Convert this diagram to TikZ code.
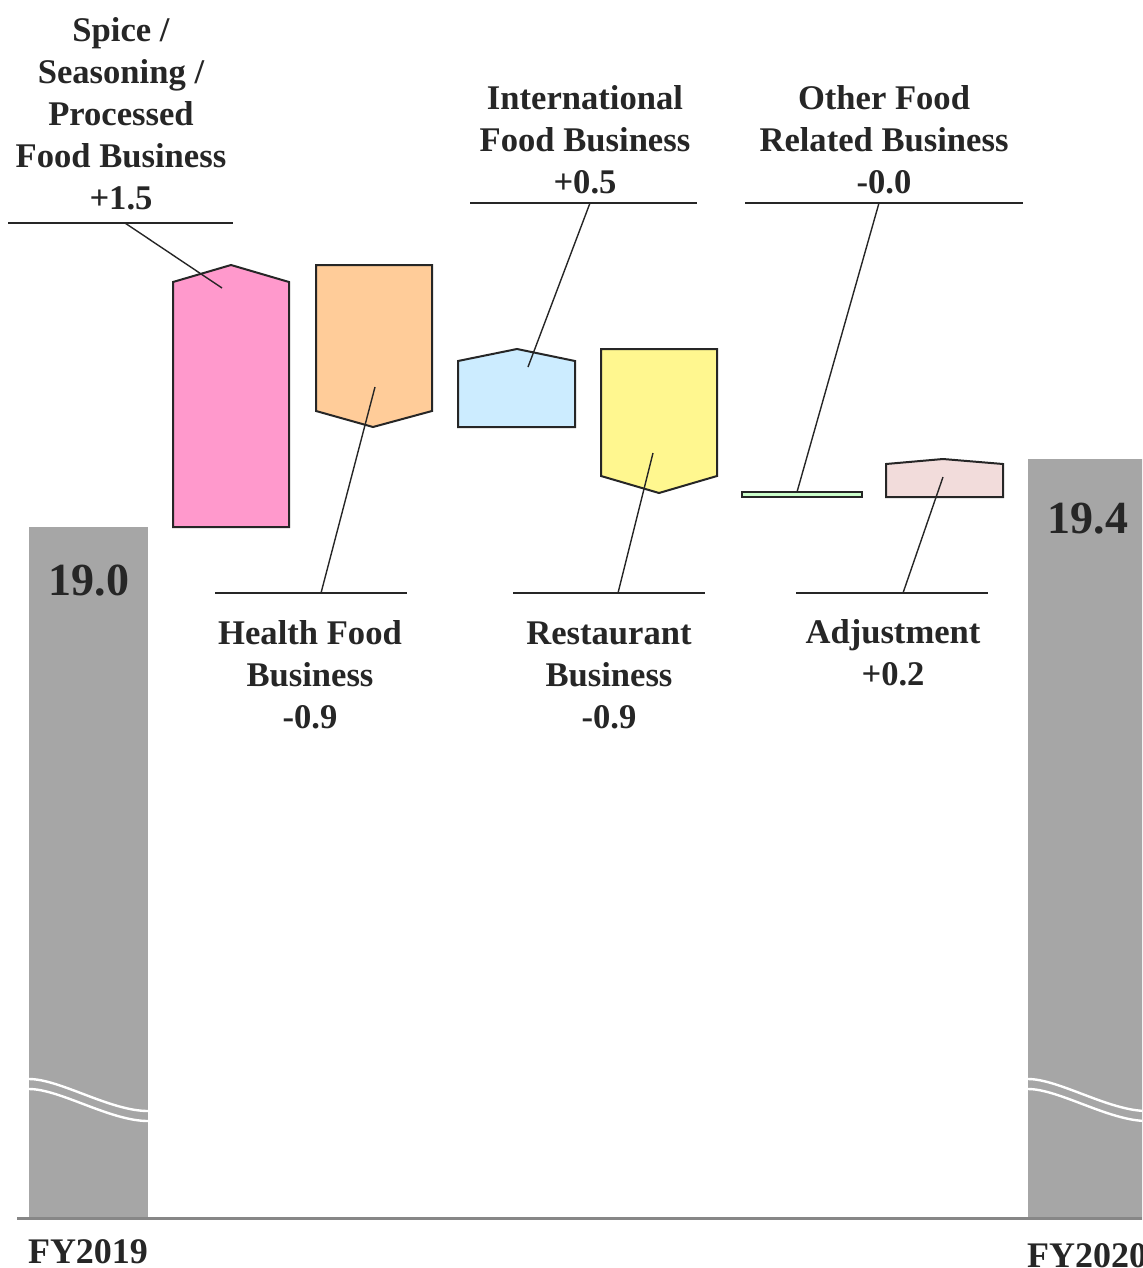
\documentclass[tikz,border=0pt]{standalone}
\usepackage{fontspec}
\setmainfont{Liberation Serif}
\definecolor{ink}{HTML}{262626}
\definecolor{graybar}{HTML}{A6A6A6}
\definecolor{axisgray}{HTML}{878787}
\definecolor{pinkbar}{HTML}{FF99CC}
\definecolor{orangebar}{HTML}{FFCC99}
\definecolor{bluebar}{HTML}{CCECFF}
\definecolor{yellowbar}{HTML}{FFF78F}
\definecolor{greenbar}{HTML}{CCFFCC}
\definecolor{adjbar}{HTML}{F2DCDB}
\tikzset{
  stepbar/.style={draw=ink, line width=1pt, line join=miter},
  % multi-line labels are anchored at the baseline of their last line
  lbl/.style={font=\fontsize{17.3}{21}\selectfont\bfseries, text=ink, align=center, inner sep=0pt, anchor=base},
  bignum/.style={font=\fontsize{23}{28}\selectfont\bfseries, text=ink, inner sep=0pt, anchor=base},
  yearlbl/.style={font=\fontsize{18}{22}\selectfont\bfseries, text=ink, inner sep=0pt, anchor=base},
  labelrule/.style={draw=ink, line width=1pt},
  leader/.style={draw=ink, line width=0.7pt},
  totalbar/.style={fill=graybar},
  breakwave/.style={draw=white, line width=1.2pt},
  baseaxis/.style={draw=axisgray, line width=1.5pt}
}
\begin{document}
\begin{tikzpicture}[x=0.5pt, y=-0.5pt]
\useasboundingbox (0,0) rectangle (1142,1268);
\clip (0,0) rectangle (1142,1268);

% totals (broken axis bars)
\fill[totalbar] (29,527) rectangle (148,1220);
\fill[totalbar] (1028,459) rectangle (1147,1220);
\foreach \dy in {0,10} {
  \draw[breakwave] (29,1079+\dy) .. controls (60,1079+\dy) and (110,1111+\dy) .. (148,1111+\dy);
  \draw[breakwave] (1028,1079+\dy) .. controls (1059,1079+\dy) and (1109,1111+\dy) .. (1147,1111+\dy);
}
\coordinate (axL) at (17,1218);
\coordinate (axR) at (1142,1218);
\draw[baseaxis] (axL) -- (axR);

\node[bignum] (v2019) at (89,595) {19.0};
\node[bignum] (v2020) at (1088,533) {19.4};
\node[yearlbl] (y2019) at (88,1263) {FY2019};
\node[yearlbl] (y2020) at (1087,1267) {FY2020};

% segment bars
\draw[stepbar, fill=pinkbar] (173,527) -- (173,282) -- (231,265) -- (289,282) -- (289,527) -- cycle;
\draw[stepbar, fill=orangebar] (316,265) -- (432,265) -- (432,411) -- (373,427) -- (316,411) -- cycle;
\draw[stepbar, fill=bluebar] (458,427) -- (458,361) -- (517,349) -- (575,361) -- (575,427) -- cycle;
\draw[stepbar, fill=yellowbar] (601,349) -- (717,349) -- (717,476) -- (659,493) -- (601,476) -- cycle;
\draw[stepbar, fill=greenbar, line width=0.8pt] (742,492) rectangle (862,497);
\draw[stepbar, fill=adjbar] (886,497) -- (886,464) -- (943,459) -- (1003,464) -- (1003,497) -- cycle;

% anchor points on the bars
\coordinate (pSpice) at (222,288);
\coordinate (pHealth) at (375,387);
\coordinate (pIntl) at (528,367);
\coordinate (pRest) at (653,453);
\coordinate (pOther) at (797,492);
\coordinate (pAdj) at (943,477);

% label rules
\coordinate (rSpiceL) at (8,223);   \coordinate (rSpiceR) at (233,223);  \coordinate (rSpice) at (125,223);
\coordinate (rIntlL) at (470,203);  \coordinate (rIntlR) at (697,203);   \coordinate (rIntl) at (590,203);
\coordinate (rOtherL) at (745,203); \coordinate (rOtherR) at (1023,203); \coordinate (rOther) at (879,203);
\coordinate (rHealthL) at (215,593); \coordinate (rHealthR) at (407,593); \coordinate (rHealth) at (321,593);
\coordinate (rRestL) at (513,593);  \coordinate (rRestR) at (705,593);   \coordinate (rRest) at (618,593);
\coordinate (rAdjL) at (796,593);   \coordinate (rAdjR) at (988,593);    \coordinate (rAdj) at (903,593);
\foreach \r in {Spice,Intl,Other,Health,Rest,Adj} {
  \draw[labelrule] (r\r L) -- (r\r R);
  \draw[leader] (r\r) -- (p\r);
}

% labels
\node[lbl] (tSpice) at (121,209) {Spice /\\Seasoning /\\Processed\\Food Business\\+1.5};
\node[lbl] (tIntl) at (585,193) {International\\Food Business\\+0.5};
\node[lbl] (tOther) at (884,193) {Other Food\\Related Business\\-0.0};
\node[lbl] (tHealth) at (310,728) {Health Food\\Business\\-0.9};
\node[lbl] (tRest) at (609,728) {Restaurant\\Business\\-0.9};
\node[lbl] (tAdj) at (893,685) {Adjustment\\+0.2};
\end{tikzpicture}
\end{document}
